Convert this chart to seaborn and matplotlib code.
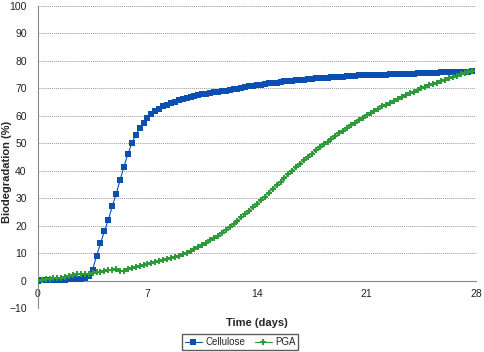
import numpy as np
import pandas as pd
import matplotlib
matplotlib.use('Agg')
import matplotlib.pyplot as plt
from matplotlib.ticker import MultipleLocator
import seaborn as sns

# sampling every quarter day, 0 .. 27.75
days = np.arange(0, 28, 0.25)

cellulose = [
    0.0, 0.1, 0.1, 0.2,   0.2, 0.3, 0.3, 0.3,   0.4, 0.5, 0.5, 0.7,
    0.8, 1.5, 4.0, 9.0,   13.5, 18.0, 22.0, 27.0,   31.5, 36.5, 41.5, 46.0,
    50.0, 53.0, 55.5, 57.5,   59.3, 60.6, 61.7, 62.6,   63.4, 64.1, 64.7, 65.2,
    65.7, 66.1, 66.5, 66.9,   67.2, 67.5, 67.8, 68.1,   68.3, 68.5, 68.7, 68.9,
    69.1, 69.4, 69.6, 69.9,   70.2, 70.5, 70.8, 71.0,   71.2, 71.4, 71.6, 71.8,
    72.0, 72.1, 72.3, 72.5,   72.6, 72.8, 72.9, 73.1,   73.2, 73.3, 73.4, 73.6,
    73.7, 73.8, 73.9, 74.0,   74.1, 74.2, 74.3, 74.4,   74.5, 74.6, 74.7, 74.7,
    74.8, 74.7, 74.8, 74.9,   75.0, 75.0, 75.1, 75.1,   75.2, 75.3, 75.3, 75.4,
    75.4, 75.5, 75.5, 75.6,   75.6, 75.7, 75.7, 75.8,   75.8, 75.9, 75.9, 76.0,
    76.0, 76.1, 76.1, 76.2,
]

pga = [
    0.0, 0.3, 0.5, 0.7,   0.8, 1.0, 1.1, 1.3,   1.5, 2.0, 2.5, 2.3,
    2.4, 2.5, 2.8, 3.0,   3.2, 3.5, 3.8, 3.9,   4.3, 3.6, 3.5, 4.2,
    4.6, 5.0, 5.2, 5.5,   5.9, 6.3, 6.6, 7.0,   7.4, 7.8, 8.2, 8.6,
    9.0, 9.6, 10.2, 10.9,   11.5, 12.2, 13.0, 13.8,   14.6, 15.5, 16.4, 17.4,
    18.4, 19.5, 20.6, 21.8,   23.0, 24.2, 25.5, 26.7,   28.0, 29.3, 30.6, 32.0,
    33.3, 34.7, 36.0, 37.4,   38.7, 40.0, 41.3, 42.6,   43.8, 45.0, 46.2, 47.4,
    48.5, 49.6, 50.6, 51.6,   52.6, 53.6, 54.6, 55.6,   56.6, 57.5, 58.4, 59.3,
    60.2, 61.0, 61.8, 62.6,   63.4, 64.1, 64.8, 65.5,   66.2, 66.9, 67.6, 68.2,
    68.8, 69.4, 70.0, 70.6,   71.1, 71.6, 72.1, 72.6,   73.1, 73.6, 74.1, 74.6,
    75.1, 75.5, 75.9, 76.2,
]

sns.set_style('white')
plt.rcParams['font.family'] = ['Liberation Sans Narrow', 'Liberation Sans', 'DejaVu Sans']

df = pd.DataFrame({'day': np.concatenate([days, days]),
                   'value': cellulose + pga,
                   'series': ['Cellulose'] * len(days) + ['PGA'] * len(days)})

fig = plt.figure(figsize=(4.85, 3.52), dpi=100)
ax = fig.add_axes([0.078, 0.125, 0.904, 0.858])

palette = {'Cellulose': '#0B4FB0', 'PGA': '#2E9A3A'}
sns.lineplot(data=df, x='day', y='value', hue='series', style='series',
             palette=palette, markers={'Cellulose': 's', 'PGA': 'P'},
             dashes=False, markersize=4, linewidth=0.8, markeredgewidth=0,
             ax=ax, zorder=3)

ax.set_xlim(0, 28)
ax.set_ylim(-10, 100)
ax.xaxis.set_major_locator(MultipleLocator(7))
ax.xaxis.set_minor_locator(MultipleLocator(1))
ax.yaxis.set_major_locator(MultipleLocator(10))
ax.yaxis.set_minor_locator(MultipleLocator(5))

for y in range(-10, 101, 10):
    ax.axhline(y, color='#999999', linestyle=(0, (1, 1)), linewidth=0.7, zorder=0)

for s in ['top', 'right']:
    ax.spines[s].set_visible(False)
ax.spines['bottom'].set_position(('data', 0))
ax.spines['bottom'].set_color('#888888')
ax.spines['left'].set_color('#888888')
ax.spines['bottom'].set_linewidth(0.8)
ax.spines['left'].set_linewidth(0.8)

ax.tick_params(axis='both', which='both', direction='out', colors='#888888',
               labelcolor='#222222', labelsize=7.5)
ax.tick_params(axis='both', which='major', length=3)
ax.tick_params(axis='both', which='minor', length=2)
ax.tick_params(axis='x', pad=3)
ax.tick_params(axis='y', pad=5)

ax.set_xlabel('')
ax.set_ylabel('Biodegradation (%)', fontsize=8, fontweight='bold')
ax.yaxis.set_label_coords(-0.058, 0.45)
fig.text(0.530, 0.083, 'Time (days)', fontsize=8, fontweight='bold',
         ha='center', va='center')

handles, labels = ax.get_legend_handles_labels()
ax.legend_.remove()
fig.legend(handles, labels, loc='center', bbox_to_anchor=(0.495, 0.028),
           ncol=2, fontsize=7, frameon=True, fancybox=False, edgecolor='#333333',
           handlelength=1.8, handletextpad=0.3, columnspacing=1.0,
           borderpad=0.3, markerscale=1.0)

fig.savefig('out.png', dpi=100)
